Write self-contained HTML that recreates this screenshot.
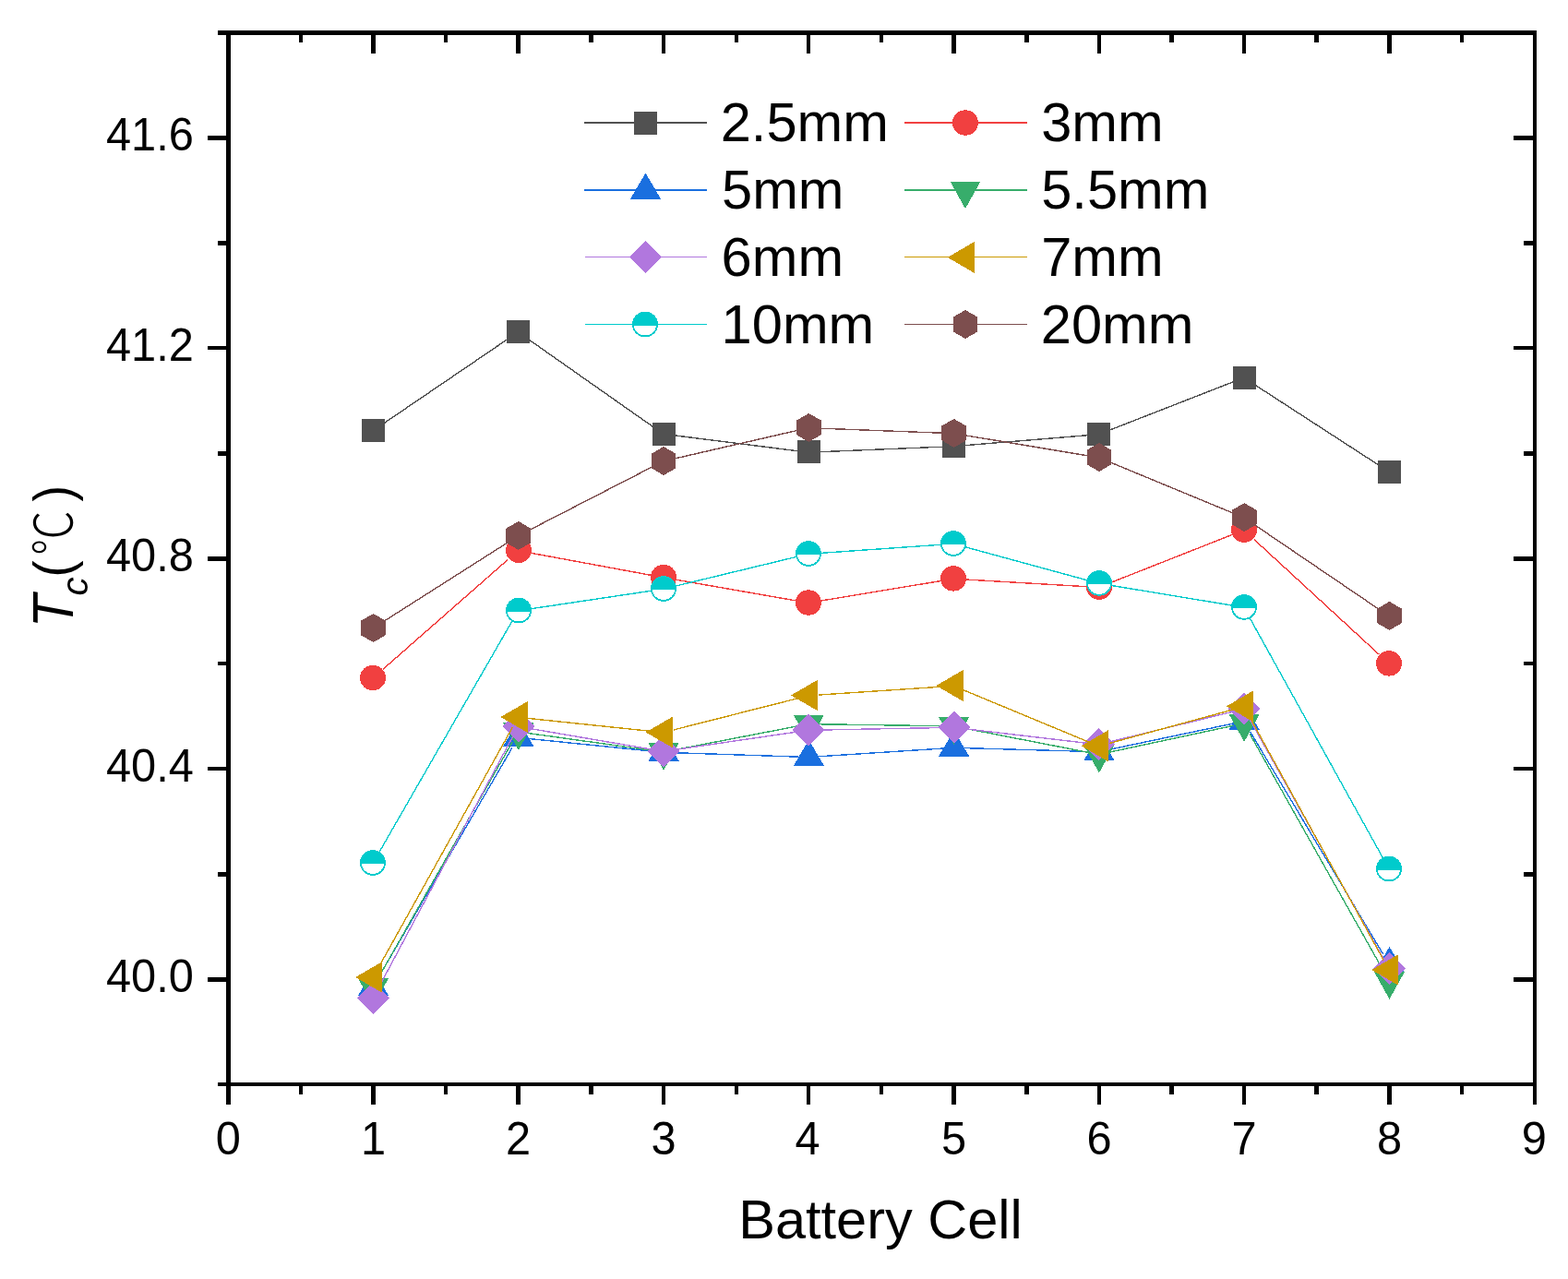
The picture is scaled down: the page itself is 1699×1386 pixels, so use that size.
<!DOCTYPE html>
<html lang="en"><head><meta charset="utf-8"><title>Battery Cell temperature chart</title>
<style>
html,body{margin:0;padding:0;background:#fff;}
body{width:1699px;height:1386px;overflow:hidden;}
svg{display:block;}
text{font-family:"Liberation Sans",sans-serif;fill:#000;}
.tk{font-size:50px;}
.lg{font-size:59.6px;}
.ax{font-size:59.5px;}
.cj{font-family:"Liberation Sans","Noto Sans CJK SC",sans-serif;}
</style></head><body>
<svg width="1699" height="1386" viewBox="0 0 1699 1386">
<rect x="0" y="0" width="1699" height="1386" fill="#fff"/>

<g id="axes" fill="#000" shape-rendering="crispEdges">
<rect x="245" y="33" width="5" height="1144"/>
<rect x="1661" y="33" width="4" height="1144"/>
<rect x="245" y="33" width="1420" height="5"/>
<rect x="245" y="1173" width="1420" height="4"/>
<rect x="245" y="1177" width="5" height="20"/>
<rect x="324" y="38" width="4" height="8"/>
<rect x="324" y="1177" width="4" height="9"/>
<rect x="402" y="38" width="5" height="20"/>
<rect x="402" y="1177" width="5" height="20"/>
<rect x="481" y="38" width="4" height="8"/>
<rect x="481" y="1177" width="4" height="9"/>
<rect x="559" y="38" width="5" height="20"/>
<rect x="559" y="1177" width="5" height="20"/>
<rect x="638" y="38" width="5" height="8"/>
<rect x="638" y="1177" width="5" height="9"/>
<rect x="717" y="38" width="4" height="20"/>
<rect x="717" y="1177" width="4" height="20"/>
<rect x="796" y="38" width="4" height="8"/>
<rect x="796" y="1177" width="4" height="9"/>
<rect x="874" y="38" width="4" height="20"/>
<rect x="874" y="1177" width="4" height="20"/>
<rect x="953" y="38" width="4" height="8"/>
<rect x="953" y="1177" width="4" height="9"/>
<rect x="1031" y="38" width="5" height="20"/>
<rect x="1031" y="1177" width="5" height="20"/>
<rect x="1110" y="38" width="5" height="8"/>
<rect x="1110" y="1177" width="5" height="9"/>
<rect x="1189" y="38" width="4" height="20"/>
<rect x="1189" y="1177" width="4" height="20"/>
<rect x="1267" y="38" width="5" height="8"/>
<rect x="1267" y="1177" width="5" height="9"/>
<rect x="1346" y="38" width="4" height="20"/>
<rect x="1346" y="1177" width="4" height="20"/>
<rect x="1424" y="38" width="5" height="8"/>
<rect x="1424" y="1177" width="5" height="9"/>
<rect x="1503" y="38" width="5" height="20"/>
<rect x="1503" y="1177" width="5" height="20"/>
<rect x="1582" y="38" width="4" height="8"/>
<rect x="1582" y="1177" width="4" height="9"/>
<rect x="1661" y="1177" width="4" height="20"/>
<rect x="236" y="33" width="9" height="5"/>
<rect x="225" y="147" width="20" height="5"/>
<rect x="1640" y="147" width="21" height="5"/>
<rect x="236" y="261" width="9" height="5"/>
<rect x="1651" y="261" width="10" height="5"/>
<rect x="225" y="375" width="20" height="4"/>
<rect x="1640" y="375" width="21" height="4"/>
<rect x="236" y="489" width="9" height="5"/>
<rect x="1651" y="489" width="10" height="5"/>
<rect x="225" y="603" width="20" height="5"/>
<rect x="1640" y="603" width="21" height="5"/>
<rect x="236" y="717" width="9" height="4"/>
<rect x="1651" y="717" width="10" height="4"/>
<rect x="225" y="831" width="20" height="4"/>
<rect x="1640" y="831" width="21" height="4"/>
<rect x="236" y="945" width="9" height="5"/>
<rect x="1651" y="945" width="10" height="5"/>
<rect x="225" y="1059" width="20" height="5"/>
<rect x="1640" y="1059" width="21" height="5"/>
<rect x="236" y="1173" width="9" height="4"/>
</g>
<g id="ticklabels">
<text class="tk" transform="translate(247.3,1250.8) scale(0.975,1)" text-anchor="middle">0</text>
<text class="tk" transform="translate(404.5,1250.8) scale(0.975,1)" text-anchor="middle">1</text>
<text class="tk" transform="translate(561.5,1250.8) scale(0.975,1)" text-anchor="middle">2</text>
<text class="tk" transform="translate(719,1250.8) scale(0.975,1)" text-anchor="middle">3</text>
<text class="tk" transform="translate(875,1250.8) scale(0.975,1)" text-anchor="middle">4</text>
<text class="tk" transform="translate(1033.5,1250.8) scale(0.975,1)" text-anchor="middle">5</text>
<text class="tk" transform="translate(1191,1250.8) scale(0.975,1)" text-anchor="middle">6</text>
<text class="tk" transform="translate(1348,1250.8) scale(0.975,1)" text-anchor="middle">7</text>
<text class="tk" transform="translate(1505.5,1250.8) scale(0.975,1)" text-anchor="middle">8</text>
<text class="tk" transform="translate(1662.4,1250.8) scale(0.975,1)" text-anchor="middle">9</text>
<text class="tk" transform="translate(209.8,162.9) scale(0.975,1)" text-anchor="end">41.6</text>
<text class="tk" transform="translate(209.8,390.9) scale(0.975,1)" text-anchor="end">41.2</text>
<text class="tk" transform="translate(209.8,618.9) scale(0.975,1)" text-anchor="end">40.8</text>
<text class="tk" transform="translate(209.8,846.9) scale(0.975,1)" text-anchor="end">40.4</text>
<text class="tk" transform="translate(209.8,1074.9) scale(0.975,1)" text-anchor="end">40.0</text>
</g>
<text class="ax" transform="translate(954,1342.1)" text-anchor="middle">Battery Cell</text>
<g id="ytitle" transform="translate(78.6,680) rotate(-90)">
<text font-style="italic" font-size="62.61" transform="translate(-0.28,0.3) scale(0.9363,1)">T</text>
<text font-style="italic" font-size="40.36" transform="translate(34.38,16.1) scale(1.0019,1)">c</text>
<text  font-size="58.4" transform="translate(54.44,-0.56) scale(0.9305,1)">(</text>
<text class="cj" font-weight="300" font-size="57.01" transform="translate(77.96,-0.46) scale(0.8601,1)">℃</text>
<text  font-size="58.4" transform="translate(136.48,-0.56) scale(0.8957,1)">)</text>
</g>
<g id="series">
<g id="s0">
<path d="M415.49,459.02L550.78,366.98M572.78,367.23L708.07,462.27M730.07,471.39L865.36,488.51M887.36,489.45L1022.65,483.85M1044.65,482.49L1179.94,471.31M1201.94,466.11L1337.23,413.29M1359.23,416.13L1494.52,503.87" fill="none" stroke="#515151" stroke-width="1.4" shape-rendering="crispEdges" transform="translate(-0.4,0.3)"/>
<g shape-rendering="crispEdges">
<rect x="391.99" y="454" width="25" height="25" fill="#515151"/>
<rect x="549.28" y="347" width="25" height="25" fill="#515151"/>
<rect x="706.57" y="457.5" width="25" height="25" fill="#515151"/>
<rect x="863.86" y="477.4" width="25" height="25" fill="#515151"/>
<rect x="1021.15" y="470.9" width="25" height="25" fill="#515151"/>
<rect x="1178.44" y="457.9" width="25" height="25" fill="#515151"/>
<rect x="1335.73" y="396.5" width="25" height="25" fill="#515151"/>
<rect x="1493.02" y="498.5" width="25" height="25" fill="#515151"/>
</g></g>
<g id="s1">
<path d="M415.49,724.84L550.78,606.06M572.78,598.44L708.07,623.46M730.07,627.42L865.36,651.08M887.36,651.17L1022.65,628.73M1044.65,627.55L1179.94,635.55M1201.94,631.86L1337.23,578.44M1359.23,584.23L1494.52,708.77" fill="none" stroke="#F14040" stroke-width="1.4" shape-rendering="crispEdges" transform="translate(-0.4,0.3)"/>
<g shape-rendering="crispEdges">
<ellipse cx="404" cy="734.5" rx="14" ry="13.7" fill="#F14040"/>
<ellipse cx="562" cy="596.4" rx="14" ry="13.7" fill="#F14040"/>
<ellipse cx="719" cy="625.5" rx="14" ry="13.7" fill="#F14040"/>
<ellipse cx="876" cy="653" rx="14" ry="13.7" fill="#F14040"/>
<ellipse cx="1033" cy="626.9" rx="14" ry="13.7" fill="#F14040"/>
<ellipse cx="1191" cy="636.2" rx="14" ry="13.7" fill="#F14040"/>
<ellipse cx="1348" cy="574.1" rx="14" ry="13.7" fill="#F14040"/>
<ellipse cx="1505" cy="718.9" rx="14" ry="13.7" fill="#F14040"/>
</g></g>
<g id="s2">
<path d="M410.89,1058.3L555.38,810M572.78,800.12L708.07,813.88M730.07,815.36L865.36,819.84M887.36,819.49L1022.65,810.71M1044.65,810.31L1179.94,814.09M1201.94,812.09L1337.23,783.61M1354.8,792.3L1498.95,1033.5" fill="none" stroke="#1A6FDF" stroke-width="1.4" shape-rendering="crispEdges" transform="translate(-0.4,0.3)"/>
<g shape-rendering="crispEdges">
<polygon points="404.49,1050.8 387.99,1078.8 420.99,1078.8" fill="#1A6FDF"/>
<polygon points="561.78,780.5 545.28,808.5 578.28,808.5" fill="#1A6FDF"/>
<polygon points="719.07,796.5 702.57,824.5 735.57,824.5" fill="#1A6FDF"/>
<polygon points="876.36,801.7 859.86,829.7 892.86,829.7" fill="#1A6FDF"/>
<polygon points="1033.65,791.5 1017.15,819.5 1050.15,819.5" fill="#1A6FDF"/>
<polygon points="1190.94,795.9 1174.44,823.9 1207.44,823.9" fill="#1A6FDF"/>
<polygon points="1348.23,762.8 1331.73,790.8 1364.73,790.8" fill="#1A6FDF"/>
<polygon points="1505.52,1026 1489.02,1054 1522.02,1054" fill="#1A6FDF"/>
</g></g>
<g id="s3">
<path d="M410.74,1058.7L555.53,803.7M572.78,794.24L708.07,813.16M730.07,812.57L865.36,786.43M887.36,784.46L1022.65,786.44M1044.65,788.75L1179.94,815.15M1201.94,814.94L1337.23,785.96M1354.43,794.6L1499.32,1051.6" fill="none" stroke="#37AD6B" stroke-width="1.4" shape-rendering="crispEdges" transform="translate(-0.4,0.3)"/>
<g shape-rendering="crispEdges">
<polygon points="404.49,1089.9 387.99,1060.2 420.99,1060.2" fill="#37AD6B"/>
<polygon points="561.78,812.9 545.28,783.2 578.28,783.2" fill="#37AD6B"/>
<polygon points="719.07,834.9 702.57,805.2 735.57,805.2" fill="#37AD6B"/>
<polygon points="876.36,804.5 859.86,774.8 892.86,774.8" fill="#37AD6B"/>
<polygon points="1033.65,806.8 1017.15,777.1 1050.15,777.1" fill="#37AD6B"/>
<polygon points="1190.94,837.5 1174.44,807.8 1207.44,807.8" fill="#37AD6B"/>
<polygon points="1348.23,803.8 1331.73,774.1 1364.73,774.1" fill="#37AD6B"/>
<polygon points="1505.52,1082.8 1489.02,1053.1 1522.02,1053.1" fill="#37AD6B"/>
</g></g>
<g id="s4">
<path d="M410.37,1070.5L555.9,798M572.78,788.89L708.07,812.11M730.07,812.39L865.36,792.61M887.36,790.79L1022.65,788.21M1044.65,789.29L1179.94,805.21M1201.94,803.81L1337.23,770.69M1354.38,779L1499.37,1038.4" fill="none" stroke="#B177DE" stroke-width="1.4" shape-rendering="crispEdges" transform="translate(-0.4,0.3)"/>
<g shape-rendering="crispEdges">
<polygon points="404.49,1064 421.99,1081.5 404.49,1099 386.99,1081.5" fill="#B177DE"/>
<polygon points="561.78,769.5 579.28,787 561.78,804.5 544.28,787" fill="#B177DE"/>
<polygon points="719.07,796.5 736.57,814 719.07,831.5 701.57,814" fill="#B177DE"/>
<polygon points="876.36,773.5 893.86,791 876.36,808.5 858.86,791" fill="#B177DE"/>
<polygon points="1033.65,770.5 1051.15,788 1033.65,805.5 1016.15,788" fill="#B177DE"/>
<polygon points="1190.94,789 1208.44,806.5 1190.94,824 1173.44,806.5" fill="#B177DE"/>
<polygon points="1348.23,750.5 1365.73,768 1348.23,785.5 1330.73,768" fill="#B177DE"/>
<polygon points="1505.52,1031.9 1523.02,1049.4 1505.52,1066.9 1488.02,1049.4" fill="#B177DE"/>
</g></g>
<g id="s5">
<path d="M410.63,1048L555.64,788M572.78,778.15L708.07,792.35M730.07,790.7L865.36,756.3M887.36,752.77L1022.65,743.73M1044.65,747.57L1179.94,803.73M1201.94,805.3L1337.23,768.4M1354.29,776.4L1499.46,1040" fill="none" stroke="#CC9900" stroke-width="1.4" shape-rendering="crispEdges" transform="translate(-0.4,0.3)"/>
<g shape-rendering="crispEdges">
<polygon points="385.19,1059 414.39,1042 414.39,1076" fill="#CC9900"/>
<polygon points="542.48,777 571.68,760 571.68,794" fill="#CC9900"/>
<polygon points="699.77,793.5 728.97,776.5 728.97,810.5" fill="#CC9900"/>
<polygon points="857.06,753.5 886.26,736.5 886.26,770.5" fill="#CC9900"/>
<polygon points="1014.35,743 1043.55,726 1043.55,760" fill="#CC9900"/>
<polygon points="1171.64,808.3 1200.84,791.3 1200.84,825.3" fill="#CC9900"/>
<polygon points="1328.93,765.4 1358.13,748.4 1358.13,782.4" fill="#CC9900"/>
<polygon points="1486.22,1051 1515.42,1034 1515.42,1068" fill="#CC9900"/>
</g></g>
<g id="s6">
<path d="M410.82,924L555.45,672.5M572.78,659.86L708.07,639.64M730.07,635.34L865.36,602.66M887.36,599.23L1022.65,589.77M1044.65,592L1179.94,628.9M1201.94,633.72L1337.23,656.08M1354.33,668.9L1499.42,930.5" fill="none" stroke="#00CBCC" stroke-width="1.4" shape-rendering="crispEdges" transform="translate(-0.4,0.3)"/>
<g shape-rendering="crispEdges">
<ellipse cx="404" cy="935" rx="14" ry="13.8" fill="#00CBCC"/><path d="M391.84,936 A12.2,12.0 0 0 0 416.16,936 Z" fill="#fff"/>
<ellipse cx="562" cy="661.5" rx="14" ry="13.8" fill="#00CBCC"/><path d="M549.84,662.5 A12.2,12.0 0 0 0 574.16,662.5 Z" fill="#fff"/>
<ellipse cx="719" cy="638" rx="14" ry="13.8" fill="#00CBCC"/><path d="M706.84,639 A12.2,12.0 0 0 0 731.16,639 Z" fill="#fff"/>
<ellipse cx="876" cy="600" rx="14" ry="13.8" fill="#00CBCC"/><path d="M863.84,601 A12.2,12.0 0 0 0 888.16,601 Z" fill="#fff"/>
<ellipse cx="1033" cy="589" rx="14" ry="13.8" fill="#00CBCC"/><path d="M1020.84,590 A12.2,12.0 0 0 0 1045.16,590 Z" fill="#fff"/>
<ellipse cx="1191" cy="631.9" rx="14" ry="13.8" fill="#00CBCC"/><path d="M1178.84,632.9 A12.2,12.0 0 0 0 1203.16,632.9 Z" fill="#fff"/>
<ellipse cx="1348" cy="657.9" rx="14" ry="13.8" fill="#00CBCC"/><path d="M1335.84,658.9 A12.2,12.0 0 0 0 1360.16,658.9 Z" fill="#fff"/>
<ellipse cx="1505" cy="941.5" rx="14" ry="13.8" fill="#00CBCC"/><path d="M1492.84,942.5 A12.2,12.0 0 0 0 1517.16,942.5 Z" fill="#fff"/>
</g></g>
<g id="s7">
<path d="M415.49,673.5L550.78,587.4M572.78,574.74L708.07,505.16M730.07,496.98L865.36,465.92M887.36,463.82L1022.65,468.98M1044.65,471.23L1179.94,493.67M1201.94,500.05L1337.23,556.05M1359.23,568.07L1494.52,659.93" fill="none" stroke="#7D4E4E" stroke-width="1.4" shape-rendering="crispEdges" transform="translate(-0.4,0.3)"/>
<g shape-rendering="crispEdges">
<polygon points="404.49,665 417.91,672.75 417.91,688.25 404.49,696 391.07,688.25 391.07,672.75" fill="#7D4E4E"/>
<polygon points="561.78,564.9 575.2,572.65 575.2,588.15 561.78,595.9 548.36,588.15 548.36,572.65" fill="#7D4E4E"/>
<polygon points="719.07,484 732.49,491.75 732.49,507.25 719.07,515 705.65,507.25 705.65,491.75" fill="#7D4E4E"/>
<polygon points="876.36,447.9 889.78,455.65 889.78,471.15 876.36,478.9 862.94,471.15 862.94,455.65" fill="#7D4E4E"/>
<polygon points="1033.65,453.9 1047.07,461.65 1047.07,477.15 1033.65,484.9 1020.23,477.15 1020.23,461.65" fill="#7D4E4E"/>
<polygon points="1190.94,480 1204.36,487.75 1204.36,503.25 1190.94,511 1177.52,503.25 1177.52,487.75" fill="#7D4E4E"/>
<polygon points="1348.23,545.1 1361.65,552.85 1361.65,568.35 1348.23,576.1 1334.81,568.35 1334.81,552.85" fill="#7D4E4E"/>
<polygon points="1505.52,651.9 1518.94,659.65 1518.94,675.15 1505.52,682.9 1492.1,675.15 1492.1,659.65" fill="#7D4E4E"/>
</g></g>
</g>
<g id="legend">
<rect x="633" y="132" width="133" height="2" fill="#515151" shape-rendering="crispEdges"/>
<g shape-rendering="crispEdges"><rect x="687" y="120.5" width="25" height="25" fill="#515151"/></g>
<text class="lg" transform="translate(780.7,152.8)" text-anchor="start">2.5mm</text>
<rect x="980" y="132" width="133" height="2" fill="#F14040" shape-rendering="crispEdges"/>
<g shape-rendering="crispEdges"><ellipse cx="1046" cy="133" rx="14" ry="13.7" fill="#F14040"/></g>
<text class="lg" transform="translate(1128.2,152.8)" text-anchor="start">3mm</text>
<rect x="633" y="205" width="133" height="2" fill="#1A6FDF" shape-rendering="crispEdges"/>
<g shape-rendering="crispEdges"><polygon points="699.5,187.5 683,215.5 716,215.5" fill="#1A6FDF"/></g>
<text class="lg" transform="translate(782,225.8)" text-anchor="start">5mm</text>
<rect x="980" y="205" width="133" height="2" fill="#37AD6B" shape-rendering="crispEdges"/>
<g shape-rendering="crispEdges"><polygon points="1046,226.2 1029.5,196.5 1062.5,196.5" fill="#37AD6B"/></g>
<text class="lg" transform="translate(1128.2,225.8)" text-anchor="start">5.5mm</text>
<rect x="634" y="278" width="132" height="1" fill="#B177DE" shape-rendering="crispEdges"/>
<g shape-rendering="crispEdges"><polygon points="699.5,261.4 717,278.9 699.5,296.4 682,278.9" fill="#B177DE"/></g>
<text class="lg" transform="translate(781.6,298.8)" text-anchor="start">6mm</text>
<rect x="980" y="278" width="133" height="1" fill="#CC9900" shape-rendering="crispEdges"/>
<g shape-rendering="crispEdges"><polygon points="1026.7,278.9 1055.9,261.9 1055.9,295.9" fill="#CC9900"/></g>
<text class="lg" transform="translate(1128.2,298.8)" text-anchor="start">7mm</text>
<rect x="634" y="351" width="132" height="1" fill="#00CBCC" shape-rendering="crispEdges"/>
<g shape-rendering="crispEdges"><ellipse cx="699" cy="351.5" rx="14" ry="13.8" fill="#00CBCC"/><path d="M686.84,352.5 A12.2,12.0 0 0 0 711.16,352.5 Z" fill="#fff"/></g>
<text class="lg" transform="translate(781.6,371.8)" text-anchor="start">10mm</text>
<rect x="980" y="351" width="133" height="1" fill="#7D4E4E" shape-rendering="crispEdges"/>
<g shape-rendering="crispEdges"><polygon points="1046,336 1059.42,343.75 1059.42,359.25 1046,367 1032.58,359.25 1032.58,343.75" fill="#7D4E4E"/></g>
<text class="lg" transform="translate(1127.8,371.8)" text-anchor="start">20mm</text>
</g>
</svg></body></html>
